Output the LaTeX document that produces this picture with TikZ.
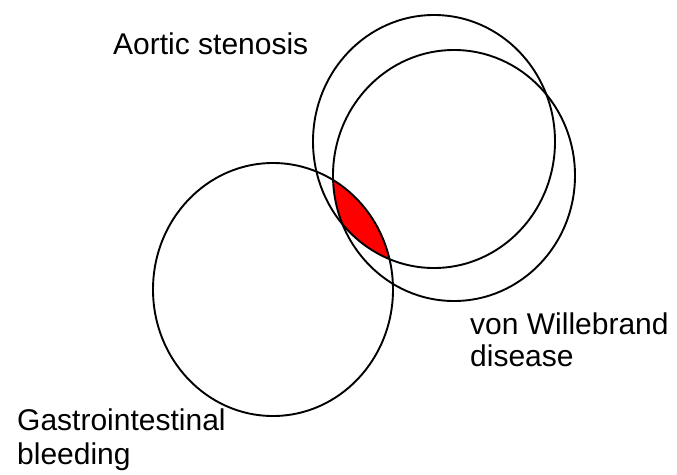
\documentclass[tikz,border=0pt]{standalone}
\usepackage{fontspec}
\setmainfont{Liberation Sans}
\begin{document}
\begin{tikzpicture}[x=1pt,y=-1pt,
  circ/.style={draw=black, line width=1.9pt},
  lbl/.style={anchor=base west, inner sep=0pt, align=left, font=\fontsize{30}{32}\selectfont}]
\useasboundingbox (0,0) rectangle (677,474);
% triple overlap
\begin{scope}
  \clip (434,141.5) ellipse [x radius=121pt, y radius=126.5pt];
  \clip (454,175.5) ellipse [x radius=121pt, y radius=125.5pt];
  \fill[red] (273,289.5) ellipse [x radius=120pt, y radius=126.5pt];
\end{scope}
\draw[circ] (434,141.5) ellipse [x radius=121pt, y radius=126.5pt];
\draw[circ] (454,175.5) ellipse [x radius=121pt, y radius=125.5pt];
\draw[circ] (273,289.5) ellipse [x radius=120pt, y radius=126.5pt];
\node[lbl] (aortic) at (113,54) {Aortic stenosis};
\node[lbl] (vwd1) at (470,334) {von Willebrand};
\node[lbl] (vwd2) at (470,366) {disease};
\node[lbl] (gi1) at (17,430) {Gastrointestinal};
\node[lbl] (gi2) at (17,464) {bleeding};
\end{tikzpicture}
\end{document}
